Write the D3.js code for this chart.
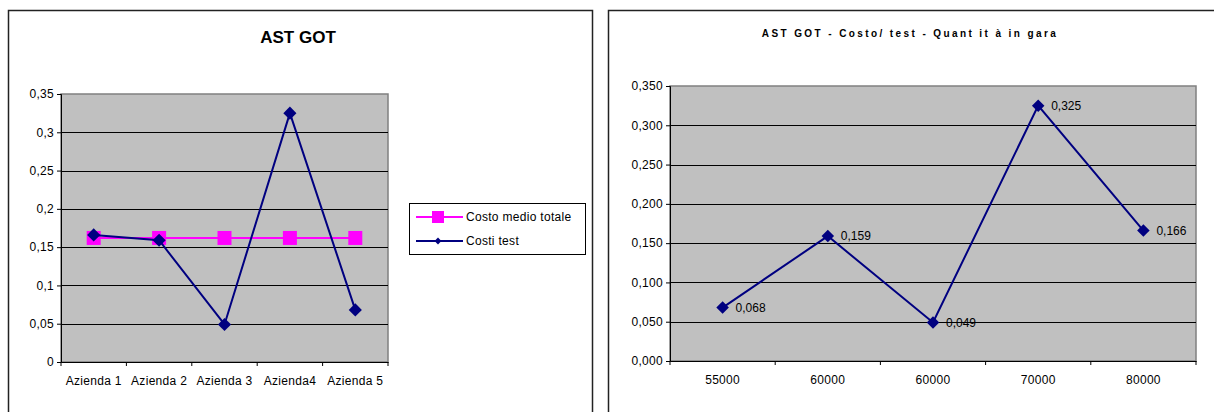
<!DOCTYPE html>
<html>
<head>
<meta charset="utf-8">
<script src="https://cdn.jsdelivr.net/npm/d3@7"></script>
<style>
  body { margin: 0; background: #fff; }
  svg text { font-family: Arial, "Liberation Sans", sans-serif; }
</style>
</head>
<body>
<div id="chart"></div>
<script>
// data
var aziende = ["Azienda 1", "Azienda 2", "Azienda 3", "Azienda4", "Azienda 5"];
var costoMedio = [0.162, 0.162, 0.162, 0.162, 0.162];
var costiTest = [0.166, 0.159, 0.049, 0.325, 0.068];

var quantita = ["55000", "60000", "60000", "70000", "80000"];
var costoTest2 = [0.068, 0.159, 0.049, 0.325, 0.166];

var ticksLeft = [0, 0.05, 0.1, 0.15, 0.2, 0.25, 0.3, 0.35];
var ticksRight = [0, 0.05, 0.1, 0.15, 0.2, 0.25, 0.3, 0.35];

var svg = d3.select("#chart").append("svg")
    .attr("width", 1214)
    .attr("height", 412);

var comma = function (f) {
    return function (d) { return d3.format(f)(d).replace(".", ","); };
};

// ---------- left chart ----------
svg.append("rect")
    .attr("x", 8.5).attr("y", 10.5)
    .attr("width", 584).attr("height", 430)
    .attr("fill", "#fff").attr("stroke", "#222").attr("stroke-width", 1.5);

svg.append("text")
    .attr("x", 298).attr("y", 43)
    .attr("text-anchor", "middle")
    .style("font-size", "17px").style("font-weight", "bold")
    .text("AST GOT");

var m1 = { left: 61, right: 388, top: 94, bottom: 362 };
var x1 = d3.scaleBand().domain(aziende).range([m1.left, m1.right]);
var y1 = d3.scaleLinear().domain([0, 0.35]).range([m1.bottom, m1.top]);

var g1 = svg.append("g");
g1.append("rect")
    .attr("x", m1.left).attr("y", m1.top)
    .attr("width", m1.right - m1.left).attr("height", m1.bottom - m1.top)
    .attr("fill", "#c0c0c0").attr("stroke", "#808080").attr("stroke-width", 1.5);

g1.selectAll(".grid")
    .data(ticksLeft.slice(1, 7))
    .enter().append("line")
    .attr("x1", m1.left).attr("x2", m1.right)
    .attr("y1", function (d) { return Math.round(y1(d)) + 0.5; })
    .attr("y2", function (d) { return Math.round(y1(d)) + 0.5; })
    .attr("stroke", "#000");

var yAx1 = g1.append("g")
    .attr("transform", "translate(" + m1.left + ",0)")
    .call(d3.axisLeft(y1).tickValues(ticksLeft).tickSize(4).tickFormat(function (d) {
        return String(+d.toFixed(2)).replace(".", ",");
    }));
var xAx1 = g1.append("g")
    .attr("transform", "translate(0," + m1.bottom + ")")
    .call(d3.axisBottom(x1).tickSize(0).tickSizeOuter(0));
xAx1.selectAll("text").attr("dy", "1.7em");
g1.selectAll(".xtick")
    .data([0, 1, 2, 3, 4, 5])
    .enter().append("line")
    .attr("x1", function (i) { return m1.left + i * x1.bandwidth(); })
    .attr("x2", function (i) { return m1.left + i * x1.bandwidth(); })
    .attr("y1", m1.bottom).attr("y2", m1.bottom + 4)
    .attr("stroke", "#000");

[yAx1, xAx1].forEach(function (a) {
    a.select(".domain").attr("stroke", "#000");
    a.selectAll("text").style("font-size", "12px").attr("fill", "#000")
        .style("letter-spacing", "0.3px")
        .style("font-family", "Arial, 'Liberation Sans', sans-serif");
});

var cx1 = function (d, i) { return x1(aziende[i]) + x1.bandwidth() / 2; };

g1.append("path")
    .datum(costoMedio)
    .attr("fill", "none").attr("stroke", "#ff00ff").attr("stroke-width", 2)
    .attr("d", d3.line().x(cx1).y(function (d) { return y1(d); }));
g1.selectAll(".sq")
    .data(costoMedio)
    .enter().append("rect")
    .attr("x", function (d, i) { return cx1(d, i) - 7; })
    .attr("y", function (d) { return y1(d) - 7; })
    .attr("width", 14).attr("height", 14)
    .attr("fill", "#ff00ff");

g1.append("path")
    .datum(costiTest)
    .attr("fill", "none").attr("stroke", "#000080").attr("stroke-width", 2)
    .attr("d", d3.line().x(cx1).y(function (d) { return y1(d); }));
g1.selectAll(".dm")
    .data(costiTest)
    .enter().append("path")
    .attr("d", d3.symbol().type(d3.symbolDiamond2).size(110))
    .attr("transform", function (d, i) { return "translate(" + cx1(d, i) + "," + y1(d) + ")"; })
    .attr("fill", "#000080");

// legend
var leg = svg.append("g");
leg.append("rect")
    .attr("x", 409.5).attr("y", 203.5)
    .attr("width", 176).attr("height", 51)
    .attr("fill", "#fff").attr("stroke", "#000");
var legItems = [
    { name: "Costo medio totale", color: "#ff00ff", mark: "sq" },
    { name: "Costi test", color: "#000080", mark: "dm" }
];
legItems.forEach(function (it, i) {
    var ly = 217 + i * 24;
    leg.append("line")
        .attr("x1", 416).attr("x2", 463).attr("y1", ly).attr("y2", ly)
        .attr("stroke", it.color).attr("stroke-width", 2);
    if (it.mark === "sq") {
        leg.append("rect").attr("x", 432).attr("y", ly - 6)
            .attr("width", 12).attr("height", 12).attr("fill", it.color);
    } else {
        leg.append("path")
            .attr("d", d3.symbol().type(d3.symbolDiamond2).size(30))
            .attr("transform", "translate(438," + ly + ")")
            .attr("fill", it.color);
    }
    leg.append("text")
        .attr("x", 466).attr("y", ly + 4)
        .style("font-size", "12px").style("letter-spacing", "0.3px")
        .text(it.name);
});

// ---------- right chart ----------
svg.append("rect")
    .attr("x", 608.5).attr("y", 10.5)
    .attr("width", 640).attr("height", 430)
    .attr("fill", "#fff").attr("stroke", "#222").attr("stroke-width", 1.5);

svg.append("text")
    .attr("x", 910).attr("y", 37)
    .attr("text-anchor", "middle")
    .style("font-size", "10px").style("font-weight", "bold")
    .style("letter-spacing", "2.4px")
    .text("AST GOT - Costo/ test - Quant it à in gara");

var m2 = { left: 670, right: 1196, top: 86, bottom: 361 };
var x2 = d3.scaleBand().domain(d3.range(quantita.length)).range([m2.left, m2.right]);
var y2 = d3.scaleLinear().domain([0, 0.35]).range([m2.bottom, m2.top]);

var g2 = svg.append("g");
g2.append("rect")
    .attr("x", m2.left).attr("y", m2.top)
    .attr("width", m2.right - m2.left).attr("height", m2.bottom - m2.top)
    .attr("fill", "#c0c0c0").attr("stroke", "#808080").attr("stroke-width", 1.5);

g2.selectAll(".grid")
    .data(ticksRight.slice(1, 7))
    .enter().append("line")
    .attr("x1", m2.left).attr("x2", m2.right)
    .attr("y1", function (d) { return Math.round(y2(d)) + 0.5; })
    .attr("y2", function (d) { return Math.round(y2(d)) + 0.5; })
    .attr("stroke", "#000");

var yAx2 = g2.append("g")
    .attr("transform", "translate(" + m2.left + ",0)")
    .call(d3.axisLeft(y2).tickValues(ticksRight).tickSize(4).tickFormat(comma(".3f")));
var xAx2 = g2.append("g")
    .attr("transform", "translate(0," + m2.bottom + ")")
    .call(d3.axisBottom(x2).tickSize(0).tickSizeOuter(0)
        .tickFormat(function (i) { return quantita[i]; }));
xAx2.selectAll("text").attr("dy", "1.7em");
g2.selectAll(".xtick")
    .data([0, 1, 2, 3, 4, 5])
    .enter().append("line")
    .attr("x1", function (i) { return m2.left + i * x2.bandwidth(); })
    .attr("x2", function (i) { return m2.left + i * x2.bandwidth(); })
    .attr("y1", m2.bottom).attr("y2", m2.bottom + 4)
    .attr("stroke", "#000");

[yAx2, xAx2].forEach(function (a) {
    a.select(".domain").attr("stroke", "#000");
    a.selectAll("text").style("font-size", "12px").attr("fill", "#000")
        .style("letter-spacing", "0.3px")
        .style("font-family", "Arial, 'Liberation Sans', sans-serif");
});

var cx2 = function (d, i) { return x2(i) + x2.bandwidth() / 2; };

g2.append("path")
    .datum(costoTest2)
    .attr("fill", "none").attr("stroke", "#000080").attr("stroke-width", 2)
    .attr("d", d3.line().x(cx2).y(function (d) { return y2(d); }));
g2.selectAll(".dm")
    .data(costoTest2)
    .enter().append("path")
    .attr("d", d3.symbol().type(d3.symbolDiamond2).size(100))
    .attr("transform", function (d, i) { return "translate(" + cx2(d, i) + "," + y2(d) + ")"; })
    .attr("fill", "#000080");
g2.selectAll(".lbl")
    .data(costoTest2)
    .enter().append("text")
    .attr("x", function (d, i) { return cx2(d, i) + 13; })
    .attr("y", function (d) { return y2(d) + 4; })
    .style("font-size", "12px")
    .text(comma(".3f"));
</script>
</body>
</html>
